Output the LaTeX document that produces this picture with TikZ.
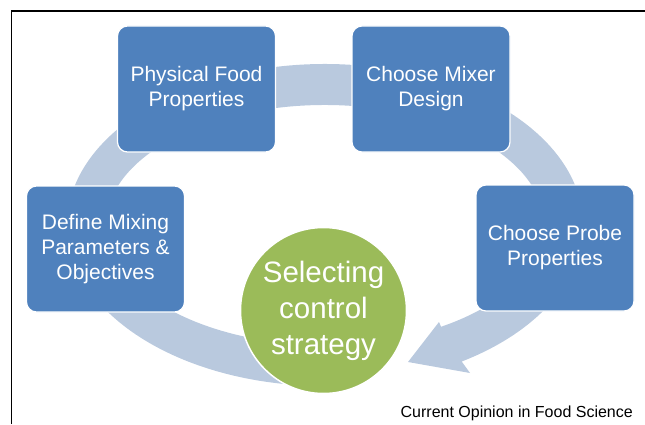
\documentclass[tikz,border=0pt]{standalone}
\usepackage{fontspec}
\setmainfont{Liberation Sans}
\usepackage{tikz}
\definecolor{node_blue}{RGB}{79,129,189}
\definecolor{node_green}{RGB}{155,187,89}
\definecolor{ring_blue}{RGB}{185,201,222}

\begin{document}
\begin{tikzpicture}[x=1pt,y=1pt]
    \tikzstyle{stage}=[draw=white, line width=1.2pt, fill=node_blue, rounded corners=10pt, minimum width=158pt, minimum height=126pt, inner sep=0pt, align=center, text=white, font=\fontsize{21}{25}\selectfont]
    \tikzstyle{hub}=[draw=white, line width=1.5pt, fill=node_green, circle, minimum size=166pt, inner sep=0pt, align=center, text=white, font=\fontsize{29.5}{36}\selectfont]
    \tikzstyle{ring}=[fill=ring_blue]
    \tikzstyle{credit}=[anchor=base east, inner sep=0pt, text=black, font=\fontsize{16}{19}\selectfont]

    \useasboundingbox (0,0) rectangle (645,424);
    \draw[line width=1.2pt] (11.5,0) -- (11.5,413) -- (645,413);

    % cycle arrow, drawn first so the boxes sit on it
    \begin{scope}[shift={(325,199)}]
      \coordinate (tail)  at (265:258 and 161);
      \coordinate (base)  at (-58:219 and 120);
      \coordinate (barbo) at (145,-148);
      \coordinate (tip)   at (83,-137);
      \coordinate (barbi) at (114,-97);
      \fill[ring] (tail) arc[start angle=265, end angle=-58, x radius=258, y radius=161]
        -- (barbo) -- (tip) -- (barbi) -- (base)
        arc[start angle=-58, end angle=265, x radius=219, y radius=120] -- cycle;
    \end{scope}

    \node[stage] (physical) at (196.5,335)   {Physical Food\\Properties};
    \node[stage] (mixer)    at (431,335)     {Choose Mixer\\Design};
    \node[stage] (define)   at (105.5,175)   {Define Mixing\\Parameters \&\\Objectives};
    \node[stage] (probe)    at (555,176)     {Choose Probe\\Properties};
    \node[hub]   (control)  at (323.5,113.5) {Selecting\\control\\strategy};

    \node[credit] (source) at (633,7) {Current Opinion in Food Science};
\end{tikzpicture}
\end{document}
